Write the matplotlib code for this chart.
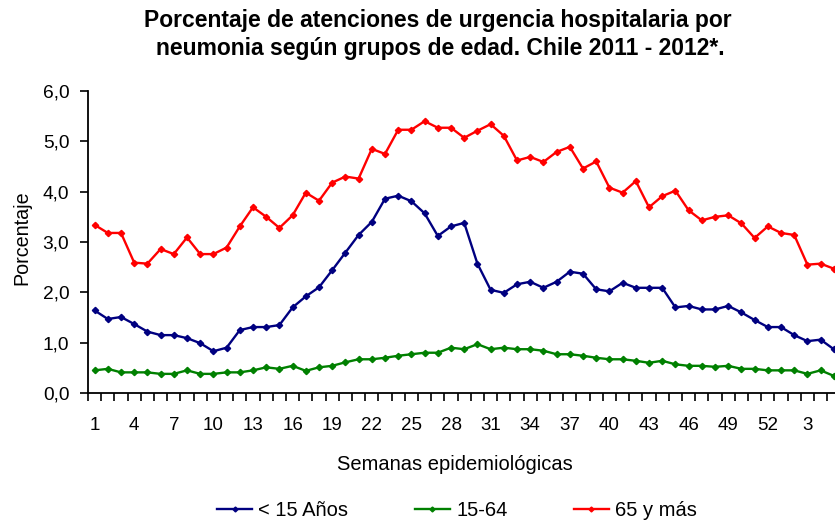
import matplotlib
matplotlib.use("Agg")
import matplotlib.pyplot as plt
from matplotlib.ticker import FixedLocator, FuncFormatter
from matplotlib.lines import Line2D

weeks = list(range(1, 53)) + [1, 2, 3, 4, 5]

menores_15 = [1.64, 1.47, 1.51, 1.37, 1.22, 1.15, 1.15, 1.09, 0.99, 0.83,
              0.90, 1.25, 1.31, 1.31, 1.35, 1.70, 1.92, 2.10, 2.44, 2.79,
              3.14, 3.40, 3.86, 3.92, 3.81, 3.57, 3.12, 3.31, 3.38, 2.57,
              2.05, 1.99, 2.16, 2.21, 2.09, 2.21, 2.41, 2.37, 2.06, 2.02,
              2.19, 2.09, 2.09, 2.09, 1.70, 1.73, 1.66, 1.66, 1.73, 1.60,
              1.45, 1.31, 1.31, 1.15, 1.03, 1.06, 0.87]

adultos_15_64 = [0.45, 0.48, 0.41, 0.41, 0.41, 0.38, 0.38, 0.45, 0.38, 0.38,
                 0.41, 0.41, 0.45, 0.51, 0.48, 0.54, 0.44, 0.51, 0.54, 0.61,
                 0.67, 0.67, 0.70, 0.74, 0.77, 0.80, 0.80, 0.90, 0.87, 0.97,
                 0.87, 0.90, 0.87, 0.87, 0.84, 0.77, 0.77, 0.74, 0.70, 0.67,
                 0.67, 0.64, 0.60, 0.64, 0.57, 0.54, 0.54, 0.52, 0.54, 0.48,
                 0.48, 0.45, 0.45, 0.45, 0.38, 0.45, 0.34]

mayores_65 = [3.34, 3.18, 3.18, 2.59, 2.57, 2.86, 2.76, 3.09, 2.76, 2.76,
              2.89, 3.31, 3.69, 3.50, 3.28, 3.53, 3.98, 3.82, 4.18, 4.30,
              4.26, 4.85, 4.75, 5.23, 5.23, 5.40, 5.27, 5.27, 5.07, 5.21,
              5.34, 5.11, 4.62, 4.69, 4.59, 4.79, 4.89, 4.46, 4.60, 4.08,
              3.98, 4.21, 3.69, 3.91, 4.02, 3.63, 3.43, 3.50, 3.53, 3.37,
              3.08, 3.31, 3.18, 3.14, 2.55, 2.57, 2.47]

series_names = ["< 15 Años", "15-64", "65 y más"]
series_colors = ["#000080", "#008000", "#FF0000"]
title_lines = ["Porcentaje de atenciones de urgencia hospitalaria por",
               "neumonia según grupos de edad. Chile 2011 - 2012*."]

plt.rcParams['font.family'] = ['Liberation Sans', 'DejaVu Sans']

W, H = 835, 521
fig = plt.figure(figsize=(W / 100, H / 100), dpi=100)
ax = fig.add_axes([88 / W, (H - 393) / H, (W - 88) / W, (393 - 91) / H])

x = list(range(len(weeks)))
for vals, col in zip([menores_15, adultos_15_64, mayores_65], series_colors):
    ax.plot(x, vals, color=col, lw=1.7, marker='D', ms=3.2, mec=col, mfc=col,
            clip_on=True)

ax.set_xlim(-0.5, (W - 88) / 13.2 - 0.5)
ax.set_ylim(0, 6)

# y axis
ax.set_yticks([0, 1, 2, 3, 4, 5, 6])
ax.yaxis.set_major_formatter(FuncFormatter(lambda v, p: f"{v:.1f}".replace('.', ',')))
ax.tick_params(axis='y', direction='out', length=6, width=1.2, labelsize=13.8, pad=7.5)

# x axis: labels every 3 weeks, ticks at category boundaries
label_pos = x[::3]
ax.xaxis.set_major_locator(FixedLocator(label_pos))
ax.set_xticklabels([str(weeks[i]) for i in label_pos])
ax.xaxis.set_minor_locator(FixedLocator([i - 0.5 for i in range(len(weeks) + 1)]))
ax.tick_params(axis='x', which='major', length=0, labelsize=13.5, pad=17)
ax.tick_params(axis='x', which='minor', direction='out', length=6, width=1.2)

for s in ['top', 'right']:
    ax.spines[s].set_visible(False)
for s in ['left', 'bottom']:
    ax.spines[s].set_linewidth(1.3)

fig.text(22 / W, 1 - 238 / H, "Porcentaje", fontsize=14.2, rotation=90,
         ha='center', va='center')
fig.text(455 / W, 1 - 465 / H, "Semanas epidemiológicas", fontsize=14.5,
         ha='center', va='center')

fig.text(437.5 / W, 1 - 20 / H, title_lines[0], fontsize=16.5,
         fontweight='bold', ha='center', va='center')
fig.text(440 / W, 1 - 48 / H, title_lines[1], fontsize=16.5,
         fontweight='bold', ha='center', va='center')

handles = [Line2D([0], [0], color=c, lw=1.7, marker='D', ms=2.5, mec=c, mfc=c)
           for c in series_colors]
fig.legend(handles, series_names, loc='center', ncol=3,
           bbox_to_anchor=(457 / W, 1 - 511 / H), frameon=False,
           fontsize=14.5, handlelength=1.75, handletextpad=0.3,
           columnspacing=3.3, borderpad=0, borderaxespad=0)

fig.savefig("out.png", dpi=100)
